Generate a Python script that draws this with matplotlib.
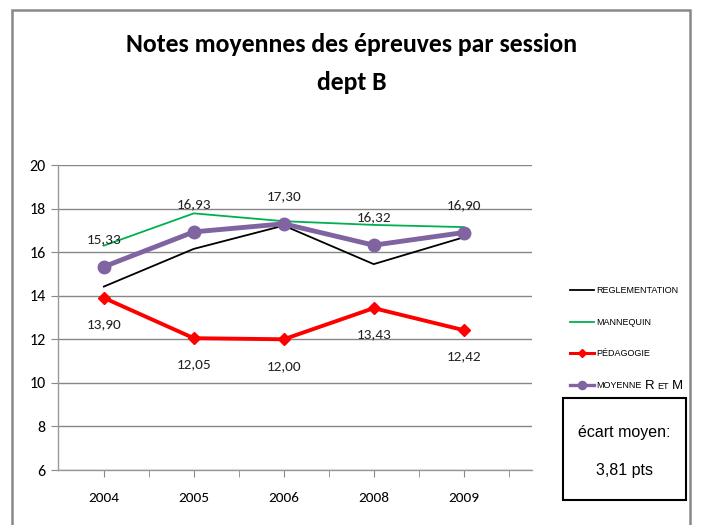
import matplotlib
matplotlib.use("Agg")
import matplotlib.pyplot as plt
from matplotlib.patches import Rectangle
import numpy as np
import warnings
warnings.filterwarnings("ignore")

years = ["2004", "2005", "2006", "2008", "2009"]
reglementation = [14.42, 16.15, 17.22, 15.45, 16.68]
mannequin = [16.3, 17.78, 17.42, 17.25, 17.15]
pedagogie = [13.90, 12.05, 12.00, 13.43, 12.42]
moyenne = [15.33, 16.93, 17.30, 16.32, 16.90]
ped_labels = ["13,90", "12,05", "12,00", "13,43", "12,42"]
moy_labels = ["15,33", "16,93", "17,30", "16,32", "16,90"]
yticks = [6, 8, 10, 12, 14, 16, 18, 20]

narrow = ["Liberation Sans Narrow", "Liberation Sans", "DejaVu Sans"]
calib = ["Carlito", "Lato", "DejaVu Sans"]

fig = plt.figure(figsize=(7.01, 5.25), dpi=100)
ax = fig.add_axes([58/701, 1-470/525, (532-58)/701, (470-165)/525])

x = np.arange(len(years))
ax.plot(x, reglementation, color="black", lw=1.3, zorder=3, label="REGLEMENTATION")
ax.plot(x, mannequin, color="#00B050", lw=1.3, zorder=3, label="MANNEQUIN")
ax.plot(x, pedagogie, color="#FF0000", lw=2.8, marker="D", ms=6.5, zorder=4, label="PÉDAGOGIE")
ax.plot(x, moyenne, color="#8064A2", lw=3.5, marker="o", ms=9, zorder=5, label="MOYENNE")

for xi, v, t in zip(x, moyenne, moy_labels):
    ax.annotate(t, (xi, v), xytext=(0, 20), textcoords="offset points", ha="center",
                va="center", fontsize=11, family=calib, color="#222222")
for xi, v, t in zip(x, pedagogie, ped_labels):
    ax.annotate(t, (xi, v), xytext=(0, -19), textcoords="offset points", ha="center",
                va="center", fontsize=11, family=calib, color="#222222")

ax.set_xlim(-0.51, 4.76)
ax.set_ylim(6, 20)
ax.set_yticks(yticks)
ax.set_yticklabels([str(t) for t in yticks], family=calib, fontsize=11.5)
ax.set_xticks(x)
ax.set_xticklabels(years, family=calib, fontsize=11)
ax.set_xticks(np.arange(-0.0, 5.0, 0.5), minor=True)
ax.tick_params(axis="x", which="both", length=5, color="#888888", pad=11)
ax.tick_params(axis="y", length=5, color="#888888", pad=4)
ax.yaxis.grid(True, color="#868686", lw=1.0)
ax.set_axisbelow(True)
for s in ["top", "right"]:
    ax.spines[s].set_visible(False)
for s in ["left", "bottom"]:
    ax.spines[s].set_color("#999999")
    ax.spines[s].set_linewidth(1.0)

leg = fig.legend(loc="upper left", bbox_to_anchor=(562/701, 1-278/525), frameon=False,
                 handlelength=2.6, labelspacing=2.5, handletextpad=0.3, markerscale=0.65,
                 prop={"family": narrow, "size": 6.5})
lw_leg = [1.3, 1.3, 2.2, 2.4]
for h, w in zip(leg.legend_handles, lw_leg):
    h.set_linewidth(w)

fig.text(352/701, 1-45/525, "Notes moyennes des épreuves par session", ha="center", va="center",
         fontsize=18.5, family=calib, weight="bold")
fig.text(352/701, 1-82/525, "dept B", ha="center", va="center",
         fontsize=18.5, family=calib, weight="bold")

fig.add_artist(Rectangle((563/701, 1-500/525), (686-563)/701, (500-398)/525,
                         transform=fig.transFigure, fill=False, ec="black", lw=1.5))
fig.text(624/701, 1-432/525, "écart moyen:", ha="center", va="center", fontsize=11.5, family=narrow)
fig.text(624/701, 1-470/525, "3,81 pts", ha="center", va="center", fontsize=11.5, family=narrow)

fig.add_artist(Rectangle((12/701, -0.1), (690-12)/701, 1.1-10/525,
                         transform=fig.transFigure, fill=False, ec="#888888", lw=1.8))

# small-caps style suffix for the last legend entry: "R ET M"
fig.canvas.draw()
r = fig.canvas.get_renderer()
t = leg.get_texts()[3]
bb = t.get_window_extent(r)
xpos = bb.x1 + 3
ybase = bb.y0 + 1
for s, fs in [("R", 9.5), ("ET", 6.5), ("M", 9.5)]:
    tt = fig.text(xpos / fig.bbox.width, ybase / fig.bbox.height, s, fontsize=fs,
                  family=narrow, ha="left", va="baseline")
    e = tt.get_window_extent(r)
    xpos = e.x1 + 3

fig.savefig("out.png", dpi=100)
